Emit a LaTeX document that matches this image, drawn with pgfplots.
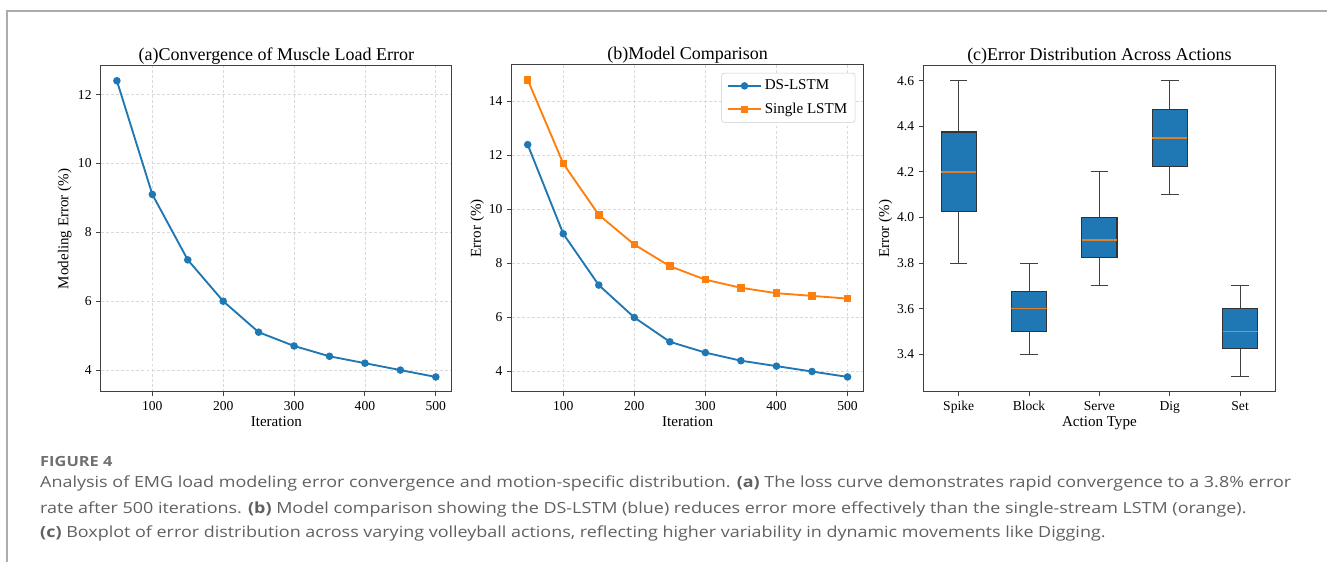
\documentclass[border=0pt]{standalone}
\usepackage{fontspec}
\setmainfont{Liberation Serif}
\newfontfamily\capfont[FakeStretch=1.17]{Open Sans}
\usepackage{pgfplots}
\pgfplotsset{compat=1.18}
\usepgfplotslibrary{statistics}
\definecolor{mpblue}{HTML}{1F77B4}
\definecolor{mporange}{HTML}{FF7F0E}
\definecolor{medcol}{HTML}{D9822B}
\definecolor{capgray}{HTML}{606060}
\definecolor{figgray}{HTML}{707070}
\pgfplotsset{
  myaxis/.style={
    scale only axis,
    axis line style={black!75, line width=0.8pt},
    tick style={black!75, line width=0.8pt},
    tick align=outside,
    major tick length=3.5pt,
    xtick pos=left, ytick pos=left,
    ticklabel style={font=\rmfamily\fontsize{10.2}{12}\selectfont},
    /pgf/number format/assume math mode=true,
    label style={font=\rmfamily\fontsize{11.3}{13}\selectfont},
    every axis title shift=0pt,
    title style={font=\rmfamily\fontsize{13.5}{16}\selectfont, anchor=base, at={(axis description cs:0.5,1)}, yshift=4pt},
    xlabel style={at={(axis description cs:0.5,0)}, anchor=base, yshift=-26.25pt},
    grid style={gray!30, dash pattern=on 2.2pt off 1.6pt, line width=0.5pt},
  },
  lineplot/.style={line width=1.4pt, mark size=2.1pt},
}
\begin{document}
\begin{tikzpicture}
\path (0,0) rectangle (996pt,421.5pt);
\draw[gray!65, line width=1.1pt] (5.25pt,0) -- (5.25pt,413.25pt) -- (996pt,413.25pt);

% (a)
\begin{axis}[myaxis, at={(75.75pt,127.5pt)}, anchor=south west,
  width=263.25pt, height=244.5pt,
  xmin=27.5, xmax=522.5, ymin=3.37, ymax=12.83,
  xtick={100,200,300,400,500}, ytick={4,6,8,10,12},
  grid=major,
  title={(a)Convergence of Muscle Load Error},
  xlabel={Iteration}, ylabel={Modeling Error (\%)},
  ylabel style={at={(axis description cs:-0.0927,0.5)}, anchor=base},
]
\addplot[lineplot, color=mpblue, mark=*] coordinates {
(50,12.4) (100,9.1) (150,7.2) (200,6.0) (250,5.1) (300,4.7) (350,4.4) (400,4.2) (450,4.0) (500,3.8)};
\end{axis}

% (b)
\begin{axis}[myaxis, at={(384pt,127.5pt)}, anchor=south west,
  width=264pt, height=245.25pt,
  xmin=27.5, xmax=522.5, ymin=3.25, ymax=15.35,
  xtick={100,200,300,400,500}, ytick={4,6,8,10,12,14},
  grid=major,
  title={(b)Model Comparison},
  xlabel={Iteration}, ylabel={Error (\%)},
  ylabel style={at={(axis description cs:-0.088,0.5)}, anchor=base},
  legend style={at={(axis description cs:0.977,0.9755)}, anchor=north east,
    draw=black!20, rounded corners=2pt, font=\rmfamily\fontsize{11.3}{13}\selectfont,
    row sep=4.5pt, inner xsep=4pt, inner ysep=3pt},
  legend cell align=left,
  legend image code/.code={\draw[mark repeat=2,mark phase=2] plot coordinates {(0cm,0cm) (0.44cm,0cm) (0.88cm,0cm)};},
]
\addplot[lineplot, color=mpblue, mark=*] coordinates {
(50,12.4) (100,9.1) (150,7.2) (200,6.0) (250,5.1) (300,4.7) (350,4.4) (400,4.2) (450,4.0) (500,3.8)};
\addlegendentry{DS-LSTM}
\addplot[lineplot, color=mporange, mark=square*] coordinates {
(50,14.8) (100,11.7) (150,9.8) (200,8.7) (250,7.9) (300,7.4) (350,7.1) (400,6.9) (450,6.8) (500,6.7)};
\addlegendentry{Single LSTM}
\end{axis}

% (c)
\begin{axis}[myaxis, at={(693pt,127.5pt)}, anchor=south west,
  width=264pt, height=244.5pt,
  xmin=0.5, xmax=5.5, ymin=3.235, ymax=4.665,
  xtick={1,2,3,4,5}, xticklabels={Spike,Block,Serve,Dig,Set},
  ytick={3.4,3.6,3.8,4.0,4.2,4.4,4.6},
  yticklabel style={/pgf/number format/.cd, fixed, fixed zerofill, precision=1},
  title={(c)Error Distribution Across Actions},
  xlabel={Action Type}, ylabel={Error (\%)},
  ylabel style={at={(axis description cs:-0.098,0.5)}, anchor=base},
  boxplot/draw direction=y,
  boxplot/every box/.style={fill=mpblue, draw=black!80, line width=0.8pt},
  boxplot/every median/.style={draw=medcol, line width=1.3pt},
  boxplot/every whisker/.style={draw=black!75, line width=0.8pt},
]
\addplot[boxplot prepared={draw position=1, lower whisker=3.8, lower quartile=4.025, median=4.2, upper quartile=4.375, upper whisker=4.6, box extend=0.5, whisker extend=0.25}, draw=black!75] coordinates {};
\addplot[boxplot prepared={draw position=2, lower whisker=3.4, lower quartile=3.5, median=3.6, upper quartile=3.675, upper whisker=3.8, box extend=0.5, whisker extend=0.25}, draw=black!75] coordinates {};
\addplot[boxplot prepared={draw position=3, lower whisker=3.7, lower quartile=3.825, median=3.9, upper quartile=4.0, upper whisker=4.2, box extend=0.5, whisker extend=0.25}, draw=black!75] coordinates {};
\addplot[boxplot prepared={draw position=4, lower whisker=4.1, lower quartile=4.225, median=4.35, upper quartile=4.475, upper whisker=4.6, box extend=0.5, whisker extend=0.25}, draw=black!75] coordinates {};
\addplot[boxplot prepared={draw position=5, lower whisker=3.3, lower quartile=3.425, median=3.5, upper quartile=3.6, upper whisker=3.7, box extend=0.5, whisker extend=0.25}, draw=black!75] coordinates {};
\end{axis}

% caption
\node[anchor=base west, inner sep=0, text=figgray] at (30pt,71.25pt) {\capfont\bfseries\fontsize{10.5}{12}\selectfont FIGURE 4};
\node[anchor=base west, inner sep=0, text=capgray] at (30pt,55.5pt) {\capfont\fontsize{11.5}{13}\selectfont Analysis of EMG load modeling error convergence and motion-specific distribution. {\bfseries(a)} The loss curve demonstrates rapid convergence to a 3.8\% error};
\node[anchor=base west, inner sep=0, text=capgray] at (30pt,36pt) {\capfont\fontsize{11.5}{13}\selectfont rate after 500 iterations. {\bfseries(b)} Model comparison showing the DS-LSTM (blue) reduces error more effectively than the single-stream LSTM (orange).};
\node[anchor=base west, inner sep=0, text=capgray] at (30pt,18pt) {\capfont\fontsize{11.5}{13}\selectfont {\bfseries(c)} Boxplot of error distribution across varying volleyball actions, reflecting higher variability in dynamic movements like Digging.};
\end{tikzpicture}
\end{document}
